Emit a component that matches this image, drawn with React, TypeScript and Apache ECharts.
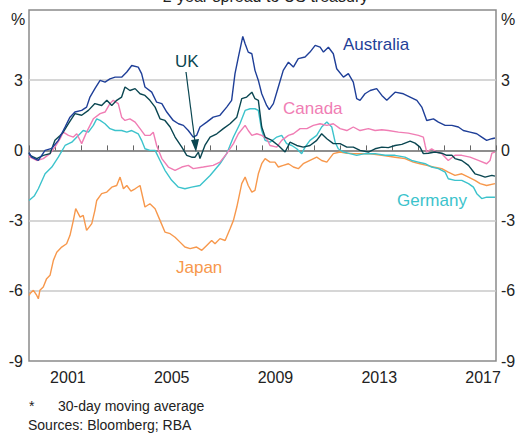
import React, { useEffect, useRef } from "react";
import * as echarts from "echarts";

const yearCategories = ["2000","2001","2002","2003","2004","2005","2006","2007","2008","2009","2010","2011","2012","2013","2014","2015","2016","2017"];
const shownYears = ["2001", "2005", "2009", "2013", "2017"];
const yTicks = { min: -9, max: 6, interval: 3 };

const australia: [number, number][] = [
  [2000.0,-0.09],[2000.1,-0.29],[2000.36,-0.43],[2000.62,0.0],[2000.88,0.09],[2001.13,0.43],[2001.39,1.0],[2001.58,1.42],[2001.77,1.64],[2002.03,1.71],[2002.22,1.85],[2002.35,2.28],[2002.54,2.64],[2002.74,2.99],[2002.93,2.92],[2003.12,3.06],[2003.32,3.13],[2003.57,3.13],[2003.77,3.35],[2003.96,3.63],[2004.21,3.56],[2004.34,3.28],[2004.47,2.71],[2004.73,2.49],[2004.92,2.06],[2005.12,2.0],[2005.31,1.64],[2005.56,1.28],[2005.76,1.14],[2005.95,1.07],[2006.14,0.85],[2006.33,0.57],[2006.46,0.64],[2006.59,1.0],[2006.85,1.21],[2007.1,1.42],[2007.36,1.5],[2007.62,1.85],[2007.81,2.14],[2007.94,3.28],[2008.07,3.99],[2008.24,4.87],[2008.33,4.56],[2008.45,4.2],[2008.59,4.13],[2008.71,3.42],[2008.84,2.99],[2008.97,2.42],[2009.16,1.92],[2009.26,1.74],[2009.42,2.0],[2009.61,2.71],[2009.8,3.42],[2010.0,3.77],[2010.19,3.56],[2010.38,3.92],[2010.64,3.99],[2010.83,4.2],[2011.03,4.49],[2011.22,4.41],[2011.35,4.2],[2011.54,4.41],[2011.73,4.13],[2011.86,3.49],[2012.12,3.13],[2012.31,3.28],[2012.5,2.92],[2012.63,2.21],[2012.76,2.14],[2012.95,2.42],[2013.15,2.56],[2013.4,2.64],[2013.6,2.35],[2013.79,2.14],[2014.11,2.49],[2014.43,2.42],[2014.69,2.28],[2014.95,2.14],[2015.14,1.85],[2015.33,1.28],[2015.59,1.35],[2015.78,1.21],[2016.04,1.07],[2016.3,1.07],[2016.55,1.0],[2016.74,0.85],[2017.0,0.78],[2017.26,0.71],[2017.45,0.57],[2017.64,0.43],[2017.84,0.5],[2017.96,0.53]
];

const uk: [number, number][] = [
  [2000.0,-0.1],[2000.04,-0.21],[2000.3,-0.35],[2000.55,-0.21],[2000.81,-0.14],[2001.0,0.43],[2001.2,0.64],[2001.32,0.78],[2001.52,1.14],[2001.77,1.57],[2002.03,1.5],[2002.29,1.71],[2002.54,2.0],[2002.8,1.92],[2003.0,2.14],[2003.19,1.92],[2003.38,2.14],[2003.57,2.28],[2003.7,2.71],[2003.89,2.56],[2004.09,2.64],[2004.28,2.42],[2004.47,2.35],[2004.66,2.14],[2004.86,1.85],[2005.05,1.35],[2005.24,1.28],[2005.44,1.0],[2005.63,0.57],[2005.89,0.14],[2006.08,-0.21],[2006.27,-0.29],[2006.4,-0.29],[2006.53,-0.07],[2006.59,-0.35],[2006.78,0.21],[2006.98,0.57],[2007.24,0.71],[2007.49,0.93],[2007.75,1.14],[2008.01,1.42],[2008.2,2.21],[2008.39,2.28],[2008.59,2.49],[2008.71,2.21],[2008.84,2.14],[2008.97,1.0],[2009.1,0.57],[2009.36,0.43],[2009.61,0.21],[2009.87,-0.07],[2010.06,0.35],[2010.32,0.21],[2010.57,0.14],[2010.83,0.21],[2011.09,0.43],[2011.28,0.71],[2011.48,0.5],[2011.73,0.29],[2011.99,0.29],[2012.25,0.14],[2012.5,0.14],[2012.76,0.0],[2013.08,-0.07],[2013.34,0.07],[2013.6,0.14],[2013.85,0.12],[2014.11,0.21],[2014.37,0.26],[2014.69,0.4],[2014.88,0.31],[2015.07,0.14],[2015.2,-0.14],[2015.39,-0.12],[2015.65,-0.07],[2015.91,-0.12],[2016.1,-0.21],[2016.3,-0.21],[2016.42,-0.35],[2016.68,-0.43],[2016.94,-0.64],[2017.19,-1.0],[2017.39,-1.07],[2017.58,-1.14],[2017.84,-1.07],[2017.96,-1.1]
];

const canada: [number, number][] = [
  [2000.0,-0.2],[2000.04,-0.29],[2000.3,-0.43],[2000.55,-0.35],[2000.81,-0.14],[2001.0,0.14],[2001.2,0.5],[2001.32,0.78],[2001.52,0.64],[2001.71,0.57],[2001.84,0.71],[2002.03,0.29],[2002.22,0.78],[2002.48,1.35],[2002.74,1.57],[2002.93,1.64],[2003.12,2.0],[2003.25,2.14],[2003.44,2.0],[2003.57,1.42],[2003.7,1.28],[2003.89,1.35],[2004.09,1.21],[2004.28,0.93],[2004.47,0.64],[2004.66,0.64],[2004.79,0.78],[2004.92,0.21],[2005.12,-0.35],[2005.37,-0.71],[2005.63,-0.85],[2005.89,-0.71],[2006.14,-0.64],[2006.33,-0.78],[2006.72,-0.71],[2007.1,-0.64],[2007.36,-0.5],[2007.62,-0.14],[2007.88,0.29],[2008.07,0.71],[2008.33,1.07],[2008.45,0.85],[2008.59,0.64],[2008.78,0.71],[2008.97,0.64],[2009.16,0.5],[2009.29,0.21],[2009.55,0.14],[2009.74,0.43],[2010.0,0.64],[2010.19,0.71],[2010.45,0.93],[2010.71,0.93],[2010.96,1.07],[2011.22,1.14],[2011.48,1.07],[2011.73,1.14],[2011.99,0.93],[2012.25,0.85],[2012.5,1.0],[2012.76,0.85],[2013.08,0.93],[2013.34,0.85],[2013.6,0.88],[2013.85,0.85],[2014.24,0.78],[2014.62,0.74],[2015.01,0.64],[2015.2,0.57],[2015.27,0.21],[2015.33,-0.07],[2015.52,0.07],[2015.72,-0.07],[2015.91,-0.14],[2016.16,-0.43],[2016.42,-0.21],[2016.68,-0.21],[2017.0,-0.29],[2017.32,-0.43],[2017.64,-0.57],[2017.77,-0.43],[2017.84,-0.12],[2017.96,-0.07]
];

const germany: [number, number][] = [
  [2000.0,-2.14],[2000.2,-1.95],[2000.36,-1.64],[2000.62,-1.0],[2000.88,-0.71],[2001.13,-0.29],[2001.39,0.21],[2001.65,0.35],[2001.9,0.64],[2002.09,0.85],[2002.29,0.78],[2002.48,1.07],[2002.61,1.35],[2002.74,1.28],[2002.93,1.14],[2003.12,0.93],[2003.32,0.85],[2003.57,0.85],[2003.77,0.78],[2003.96,0.85],[2004.21,0.71],[2004.34,0.43],[2004.47,0.07],[2004.66,0.0],[2004.86,0.0],[2005.05,-0.43],[2005.24,-0.85],[2005.5,-1.28],[2005.76,-1.57],[2006.01,-1.64],[2006.27,-1.57],[2006.59,-1.5],[2006.98,-1.07],[2007.36,-0.57],[2007.62,-0.14],[2007.88,0.57],[2008.13,1.14],[2008.33,1.71],[2008.52,1.78],[2008.71,1.78],[2008.84,1.71],[2008.97,0.85],[2009.1,0.43],[2009.29,0.35],[2009.55,0.57],[2009.74,0.64],[2009.93,0.29],[2010.13,0.21],[2010.32,0.07],[2010.51,-0.14],[2010.64,0.14],[2010.83,0.43],[2011.09,0.64],[2011.28,1.0],[2011.48,1.21],[2011.67,1.0],[2011.8,0.35],[2011.92,0.07],[2012.12,-0.07],[2012.37,-0.14],[2012.63,-0.21],[2012.95,-0.14],[2013.34,-0.14],[2013.72,-0.21],[2014.11,-0.21],[2014.49,-0.29],[2014.75,-0.43],[2015.01,-0.5],[2015.27,-0.57],[2015.52,-0.71],[2015.78,-0.78],[2016.04,-0.93],[2016.16,-1.21],[2016.42,-1.28],[2016.68,-1.28],[2016.94,-1.42],[2017.13,-1.57],[2017.26,-1.85],[2017.45,-2.06],[2017.64,-2.0],[2017.96,-2.0]
];

const japan: [number, number][] = [
  [2000.0,-6.2],[2000.04,-6.12],[2000.17,-5.98],[2000.3,-6.2],[2000.36,-6.34],[2000.42,-5.98],[2000.55,-5.84],[2000.68,-5.48],[2000.81,-5.34],[2000.94,-4.7],[2001.07,-4.35],[2001.26,-4.13],[2001.45,-3.99],[2001.58,-3.63],[2001.71,-2.99],[2001.8,-2.49],[2001.97,-2.85],[2002.09,-2.78],[2002.22,-3.42],[2002.42,-3.13],[2002.54,-2.56],[2002.61,-2.14],[2002.8,-1.85],[2003.0,-1.78],[2003.19,-1.57],[2003.38,-1.5],[2003.51,-1.14],[2003.64,-1.64],[2003.77,-1.5],[2003.93,-1.74],[2004.09,-1.64],[2004.28,-1.5],[2004.47,-2.42],[2004.66,-2.28],[2004.86,-2.49],[2005.05,-2.99],[2005.24,-3.49],[2005.44,-3.56],[2005.63,-3.71],[2005.82,-3.92],[2006.01,-4.13],[2006.21,-4.2],[2006.46,-4.13],[2006.66,-4.27],[2006.85,-4.06],[2007.04,-3.85],[2007.17,-3.99],[2007.36,-3.77],[2007.56,-3.85],[2007.75,-3.35],[2007.88,-2.99],[2008.01,-2.42],[2008.2,-1.42],[2008.33,-1.14],[2008.45,-1.5],[2008.59,-1.78],[2008.71,-1.71],[2008.84,-1.0],[2008.97,-0.57],[2009.1,-0.35],[2009.29,-0.5],[2009.48,-0.5],[2009.61,-0.71],[2009.8,-0.64],[2010.0,-0.57],[2010.19,-0.71],[2010.38,-0.78],[2010.57,-0.57],[2010.83,-0.43],[2011.09,-0.29],[2011.28,-0.43],[2011.48,-0.5],[2011.73,-0.14],[2011.99,-0.07],[2012.25,-0.12],[2012.5,-0.14],[2013.08,-0.14],[2013.6,-0.21],[2014.11,-0.29],[2014.49,-0.35],[2014.81,-0.5],[2015.07,-0.57],[2015.33,-0.64],[2015.59,-0.71],[2015.91,-0.78],[2016.16,-0.93],[2016.42,-1.07],[2016.68,-1.0],[2016.94,-1.14],[2017.19,-1.28],[2017.39,-1.42],[2017.64,-1.5],[2017.96,-1.42]
];

const FONT = 'Arial, "Liberation Sans", Helvetica, sans-serif';
const C = {
  australia: "#1f3f98",
  uk: "#0a4651",
  canada: "#f07db4",
  germany: "#3cc3cc",
  japan: "#f7984c",
};

export default function App() {
  const ref = useRef<HTMLDivElement>(null);
  useEffect(() => {
    document.body.style.margin = "0";
    const chart = echarts.init(ref.current!, null, { renderer: "svg" });
    const mk = (name: string, data: [number, number][], color: string) => ({
      name,
      type: "line",
      data,
      xAxisIndex: 0,
      yAxisIndex: 0,
      showSymbol: false,
      symbol: "none",
      lineStyle: { color, width: 1.4 },
      z: 3,
    });
    chart.setOption({
      animation: false,
      backgroundColor: "#ffffff",
      textStyle: { fontFamily: FONT },
      grid: {
        left: 29, right: 35, top: 10, bottom: 72,
        show: true, borderColor: "#8a8a8a", borderWidth: 1.5, backgroundColor: "transparent",
      },
      xAxis: [
        { type: "value", min: 2000, max: 2018, show: false },
        {
          type: "category",
          data: yearCategories,
          boundaryGap: true,
          position: "bottom",
          axisLine: { show: true, lineStyle: { color: "#8a8a8a", width: 1.5 } },
          axisTick: { show: true, inside: true, length: 5, interval: 0, lineStyle: { color: "#666", width: 1 } },
          axisLabel: {
            interval: 0, margin: 8, fontSize: 16, color: "#222", fontFamily: FONT,
            formatter: (v: string) => (shownYears.includes(v) ? v : ""),
          },
          splitLine: { show: false },
        },
      ],
      yAxis: [
        {
          type: "value", min: yTicks.min, max: yTicks.max, interval: yTicks.interval,
          position: "left",
          axisLine: { show: false }, axisTick: { show: false },
          axisLabel: { margin: 6, fontSize: 16, color: "#222", fontFamily: FONT,
            formatter: (v: number) => (v === yTicks.max ? "" : String(v)) },
          splitLine: { show: true, lineStyle: { width: 1.5,
            color: ["transparent", "#c9c9c9", "#c9c9c9", "#7a7a7a", "#c9c9c9", "transparent"] } },
        },
        {
          type: "value", min: yTicks.min, max: yTicks.max, interval: yTicks.interval,
          position: "right",
          axisLine: { show: false }, axisTick: { show: false },
          axisLabel: { margin: 5, fontSize: 16, color: "#222", fontFamily: FONT,
            formatter: (v: number) => (v === yTicks.max ? "" : String(v)) },
          splitLine: { show: false },
        },
      ],
      series: [
        mk("Japan", japan, C.japan),
        mk("Germany", germany, C.germany),
        mk("Canada", canada, C.canada),
        mk("UK", uk, C.uk),
        mk("Australia", australia, C.australia),
      ],
      graphic: [
        { type: "text", left: "center", top: -12, style: { text: "2-year spread to US treasury", fontSize: 16, fill: "#222", fontFamily: FONT } },
        { type: "text", x: 11, y: 11, style: { text: "%", fontSize: 16, fill: "#222", fontFamily: FONT } },
        { type: "text", x: 501, y: 11, style: { text: "%", fontSize: 16, fill: "#222", fontFamily: FONT } },
        { type: "text", x: 343, y: 36, style: { text: "Australia", fontSize: 17, fill: C.australia, fontFamily: FONT } },
        { type: "text", x: 175, y: 53, style: { text: "UK", fontSize: 17, fill: C.uk, fontFamily: FONT } },
        { type: "text", x: 283, y: 100, style: { text: "Canada", fontSize: 17, fill: C.canada, fontFamily: FONT } },
        { type: "text", x: 397, y: 192, style: { text: "Germany", fontSize: 17, fill: C.germany, fontFamily: FONT } },
        { type: "text", x: 176, y: 259, style: { text: "Japan", fontSize: 17, fill: C.japan, fontFamily: FONT } },
        { type: "line", shape: { x1: 186, y1: 72, x2: 195, y2: 142 }, style: { stroke: C.uk, lineWidth: 1.2 }, z: 10 },
        { type: "polygon", shape: { points: [[191, 140], [199, 139], [196, 152]] }, style: { fill: C.uk }, z: 10 },
        { type: "text", x: 29, y: 399, style: { text: "*", fontSize: 14, fill: "#222", fontFamily: FONT } },
        { type: "text", x: 58, y: 399, style: { text: "30-day moving average", fontSize: 14, fill: "#222", fontFamily: FONT } },
        { type: "text", x: 28, y: 418, style: { text: "Sources: Bloomberg; RBA", fontSize: 14, fill: "#222", fontFamily: FONT } },
      ],
    });
    return () => chart.dispose();
  }, []);
  return <div ref={ref} style={{ position: "fixed", left: 0, top: 0, width: 531, height: 433 }} />;
}
